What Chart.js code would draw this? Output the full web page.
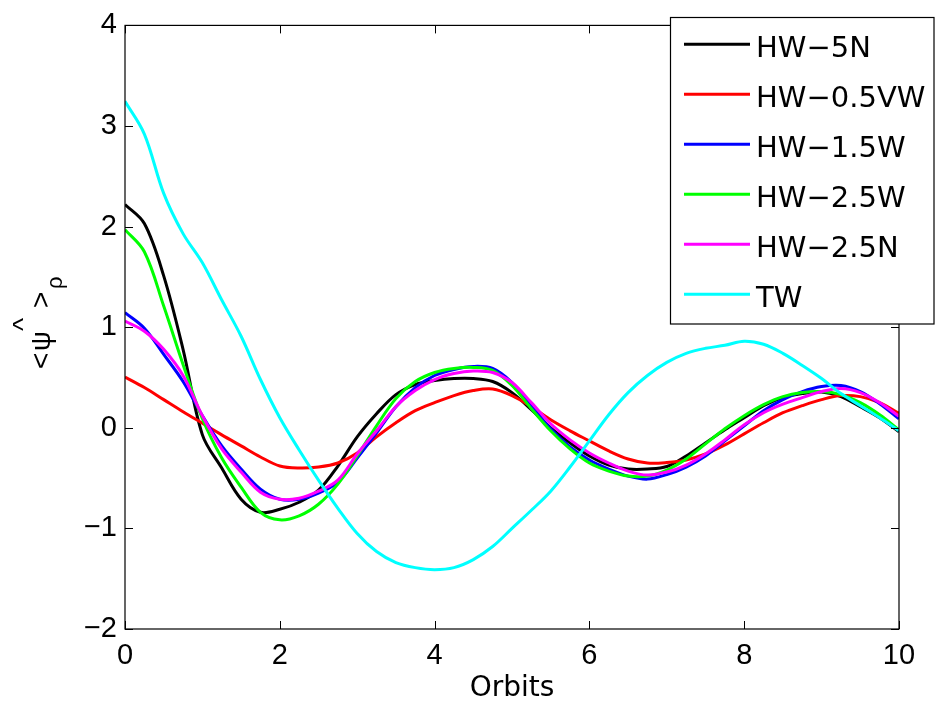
<!DOCTYPE html>
<html>
<head>
<meta charset="utf-8">
<script src="https://cdn.jsdelivr.net/npm/chart.js@4.4.1/dist/chart.umd.min.js"></script>
<style>
  html, body { margin: 0; padding: 0; background: #fff; }
  #wrap { width: 935px; height: 711px; position: relative; }
</style>
</head>
<body>
<div id="wrap"><canvas id="c" width="935" height="711"></canvas></div>
<script>
// ---- data ----
const orbits = [0,0.25,0.5,0.75,1,1.25,1.5,1.75,2,2.25,2.5,2.75,3,3.25,3.5,3.75,4,4.25,4.5,4.75,5,5.25,5.5,5.75,6,6.25,6.5,6.75,7,7.25,7.5,7.75,8,8.25,8.5,8.75,9,9.25,9.5,9.75,10];

const seriesNames = ['HW\u22125N','HW\u22120.5VW','HW\u22121.5W','HW\u22122.5W','HW\u22122.5N','TW'];
const seriesColors = ['#000000','#ff0000','#0000ff','#00ff00','#ff00ff','#00ffff'];

const hw5N   = [2.22,2.03,1.51,0.78,-0.07,-0.40,-0.71,-0.84,-0.81,-0.74,-0.62,-0.38,-0.09,0.14,0.33,0.43,0.47,0.49,0.49,0.46,0.35,0.18,0.00,-0.15,-0.28,-0.37,-0.41,-0.41,-0.385,-0.28,-0.15,-0.02,0.10,0.22,0.30,0.34,0.355,0.31,0.21,0.10,-0.04];
const hw05VW = [0.505,0.40,0.28,0.16,0.045,-0.07,-0.18,-0.29,-0.38,-0.40,-0.39,-0.35,-0.25,-0.09,0.05,0.17,0.25,0.32,0.37,0.385,0.32,0.21,0.08,-0.03,-0.13,-0.23,-0.31,-0.35,-0.345,-0.32,-0.26,-0.17,-0.06,0.05,0.15,0.22,0.28,0.32,0.31,0.25,0.145];
const hw15W  = [1.145,0.99,0.73,0.46,0.12,-0.18,-0.41,-0.61,-0.71,-0.71,-0.65,-0.54,-0.30,-0.05,0.21,0.40,0.52,0.58,0.61,0.59,0.45,0.22,-0.01,-0.19,-0.32,-0.41,-0.48,-0.51,-0.465,-0.39,-0.28,-0.13,0.02,0.17,0.28,0.36,0.41,0.42,0.36,0.24,0.09];
const hw25W  = [1.97,1.75,1.21,0.63,0.09,-0.30,-0.59,-0.84,-0.915,-0.875,-0.76,-0.56,-0.28,0.02,0.29,0.46,0.55,0.59,0.60,0.57,0.42,0.19,-0.03,-0.21,-0.35,-0.43,-0.48,-0.48,-0.42,-0.31,-0.16,-0.01,0.12,0.23,0.31,0.35,0.36,0.33,0.25,0.13,-0.02];
const hw25N  = [1.06,0.96,0.78,0.52,0.12,-0.21,-0.44,-0.64,-0.71,-0.70,-0.63,-0.52,-0.26,-0.03,0.21,0.37,0.48,0.54,0.565,0.55,0.45,0.25,0.04,-0.12,-0.25,-0.35,-0.43,-0.47,-0.44,-0.37,-0.26,-0.12,0.03,0.15,0.235,0.30,0.36,0.39,0.35,0.25,0.115];
const tw     = [3.245,2.92,2.33,1.93,1.64,1.27,0.91,0.48,0.10,-0.22,-0.52,-0.80,-1.05,-1.23,-1.34,-1.39,-1.41,-1.39,-1.31,-1.18,-1.00,-0.82,-0.63,-0.39,-0.13,0.13,0.35,0.52,0.65,0.74,0.79,0.82,0.86,0.83,0.74,0.62,0.49,0.34,0.22,0.10,-0.03];

const xTicks = [0,2,4,6,8,10];
const yTicks = [-2,-1,0,1,2,3,4];

const allSeries = [hw5N, hw05VW, hw15W, hw25W, hw25N, tw];

const FONT = '"DejaVu Sans", "Liberation Sans", Arial, sans-serif';
const TICKFONT = '"Liberation Sans", Arial, sans-serif';

const datasets = allSeries.map((vals, i) => ({
  label: seriesNames[i],
  data: vals.map((v, k) => ({x: orbits[k], y: v})),
  borderColor: seriesColors[i],
  backgroundColor: seriesColors[i],
  borderWidth: 3,
  pointRadius: 0,
  fill: false,
  tension: 0.35,
  order: allSeries.length - i
}));

const frame = {
  id: 'frame',
  afterDatasetsDraw(chart) {
    const ctx = chart.ctx;
    const a = chart.chartArea;
    const xs = chart.scales.x, ys = chart.scales.y;
    ctx.save();
    ctx.strokeStyle = '#000';
    ctx.lineWidth = 1.2;
    ctx.strokeRect(a.left, a.top, a.right - a.left, a.bottom - a.top);
    const tl = 8;
    ctx.beginPath();
    xTicks.forEach(t => {
      const px = Math.round(xs.getPixelForValue(t)) + 0.5;
      ctx.moveTo(px, a.bottom); ctx.lineTo(px, a.bottom - tl);
      ctx.moveTo(px, a.top); ctx.lineTo(px, a.top + tl);
    });
    yTicks.forEach(t => {
      const py = Math.round(ys.getPixelForValue(t)) + 0.5;
      ctx.moveTo(a.left, py); ctx.lineTo(a.left + tl, py);
      ctx.moveTo(a.right, py); ctx.lineTo(a.right - tl, py);
    });
    ctx.lineWidth = 1;
    ctx.stroke();
    ctx.restore();
  },
  afterDraw(chart) {
    const ctx = chart.ctx;
    ctx.save();
    // legend
    const L = 670.5, T = 17.5, R = 934, B = 324;
    ctx.fillStyle = '#fff';
    ctx.fillRect(L, T, R - L, B - T);
    ctx.strokeStyle = '#000';
    ctx.lineWidth = 1.2;
    ctx.strokeRect(L, T, R - L, B - T);
    ctx.font = '29px ' + FONT;
    ctx.textAlign = 'left';
    ctx.textBaseline = 'alphabetic';
    chart.data.datasets.forEach((ds, i) => {
      const y = 44.3 + 50 * i;
      ctx.beginPath();
      ctx.strokeStyle = ds.borderColor;
      ctx.lineWidth = 3;
      ctx.moveTo(684, y); ctx.lineTo(750, y);
      ctx.stroke();
      ctx.fillStyle = '#000';
      ctx.fillText(ds.label, 756, y + 13);
    });
    // y axis title: <ψ^>ρ
    ctx.translate(43, 323);
    ctx.rotate(-Math.PI / 2);
    ctx.fillStyle = '#000';
    ctx.font = '28px ' + TICKFONT;
    ctx.fillText('<', -46, 7);
    ctx.fillText('\u03C8', -28, 7);
    ctx.fillText('^', -8, -11);
    ctx.fillText('>', 15, 7);
    ctx.font = '22px ' + TICKFONT;
    ctx.fillText('\u03C1', 34, 19);
    ctx.restore();
  }
};

new Chart(document.getElementById('c'), {
  type: 'line',
  data: { datasets },
  options: {
    responsive: false,
    animation: false,
    devicePixelRatio: 1,
    layout: { padding: { left: 0, top: 17, right: 36, bottom: 0 } },
    plugins: { legend: { display: false }, tooltip: { enabled: false } },
    scales: {
      x: {
        type: 'linear', min: 0, max: 10,
        afterFit(s) { s.height = 82; },
        afterBuildTicks(s) { s.ticks = xTicks.map(v => ({value: v})); },
        grid: { display: false, drawTicks: false },
        border: { display: false },
        ticks: { color: '#000', font: { family: TICKFONT, size: 29 }, padding: 10, maxRotation: 0,
                  callback: v => String(v).replace('-', '\u2212') },
        title: { display: true, text: 'Orbits', color: '#000', font: { family: FONT, size: 28 }, padding: { top: 0, bottom: 5 } }
      },
      y: {
        type: 'linear', min: -2, max: 4,
        afterFit(s) { s.width = 125; },
        afterBuildTicks(s) { s.ticks = yTicks.map(v => ({value: v})); },
        grid: { display: false, drawTicks: false },
        border: { display: false },
        ticks: { color: '#000', font: { family: TICKFONT, size: 29 }, padding: 8,
                 callback: v => String(v).replace('-', '\u2212') }
      }
    }
  },
  plugins: [frame]
});
</script>
</body>
</html>
